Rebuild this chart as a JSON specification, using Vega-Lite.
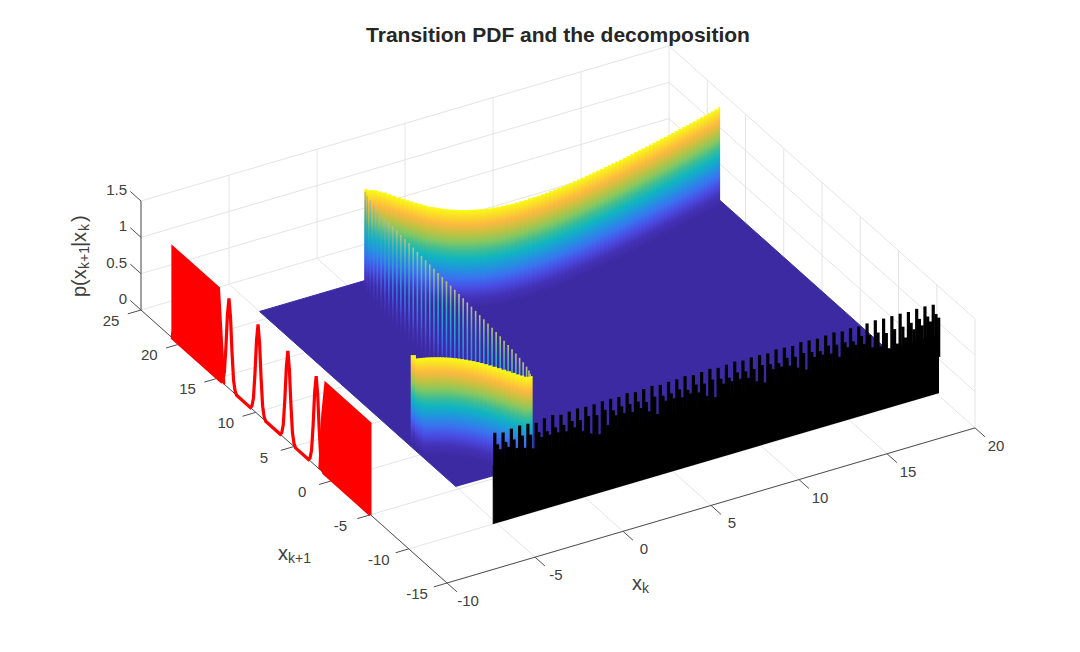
{
  "$schema": "https://vega.github.io/schema/vega-lite/v6.json",
  "width": 1080,
  "height": 652,
  "autosize": "none",
  "padding": 0,
  "background": "white",
  "title": {"text": "Transition PDF and the decomposition", "font": "Liberation Sans", "fontSize": 21, "fontWeight": "bold", "color": "#262626", "anchor": "middle", "dx": 18, "offset": -46},
  "config": {"view": {"stroke": null}, "font": "Liberation Sans"},
  "datasets": {
    "lines": [
      {"x0":-10,"y0":-15,"z0":0,"x1":-10,"y1":25,"z1":0},{"x0":-5,"y0":-15,"z0":0,"x1":-5,"y1":25,"z1":0},{"x0":0,"y0":-15,"z0":0,"x1":0,"y1":25,"z1":0},{"x0":5,"y0":-15,"z0":0,"x1":5,"y1":25,"z1":0},{"x0":10,"y0":-15,"z0":0,"x1":10,"y1":25,"z1":0},{"x0":15,"y0":-15,"z0":0,"x1":15,"y1":25,"z1":0},{"x0":20,"y0":-15,"z0":0,"x1":20,"y1":25,"z1":0},
      {"x0":-10,"y0":-15,"z0":0,"x1":20,"y1":-15,"z1":0},{"x0":-10,"y0":-10,"z0":0,"x1":20,"y1":-10,"z1":0},{"x0":-10,"y0":-5,"z0":0,"x1":20,"y1":-5,"z1":0},{"x0":-10,"y0":0,"z0":0,"x1":20,"y1":0,"z1":0},{"x0":-10,"y0":5,"z0":0,"x1":20,"y1":5,"z1":0},{"x0":-10,"y0":10,"z0":0,"x1":20,"y1":10,"z1":0},{"x0":-10,"y0":15,"z0":0,"x1":20,"y1":15,"z1":0},{"x0":-10,"y0":20,"z0":0,"x1":20,"y1":20,"z1":0},{"x0":-10,"y0":25,"z0":0,"x1":20,"y1":25,"z1":0},
      {"x0":20,"y0":-15,"z0":0,"x1":20,"y1":-15,"z1":1.5},{"x0":20,"y0":-10,"z0":0,"x1":20,"y1":-10,"z1":1.5},{"x0":20,"y0":-5,"z0":0,"x1":20,"y1":-5,"z1":1.5},{"x0":20,"y0":0,"z0":0,"x1":20,"y1":0,"z1":1.5},{"x0":20,"y0":5,"z0":0,"x1":20,"y1":5,"z1":1.5},{"x0":20,"y0":10,"z0":0,"x1":20,"y1":10,"z1":1.5},{"x0":20,"y0":15,"z0":0,"x1":20,"y1":15,"z1":1.5},{"x0":20,"y0":20,"z0":0,"x1":20,"y1":20,"z1":1.5},{"x0":20,"y0":25,"z0":0,"x1":20,"y1":25,"z1":1.5},
      {"x0":20,"y0":-15,"z0":0.5,"x1":20,"y1":25,"z1":0.5},{"x0":20,"y0":-15,"z0":1,"x1":20,"y1":25,"z1":1},{"x0":20,"y0":-15,"z0":1.5,"x1":20,"y1":25,"z1":1.5},
      {"x0":-10,"y0":25,"z0":0,"x1":-10,"y1":25,"z1":1.5},{"x0":-5,"y0":25,"z0":0,"x1":-5,"y1":25,"z1":1.5},{"x0":0,"y0":25,"z0":0,"x1":0,"y1":25,"z1":1.5},{"x0":5,"y0":25,"z0":0,"x1":5,"y1":25,"z1":1.5},{"x0":10,"y0":25,"z0":0,"x1":10,"y1":25,"z1":1.5},{"x0":15,"y0":25,"z0":0,"x1":15,"y1":25,"z1":1.5},
      {"x0":-10,"y0":25,"z0":0.5,"x1":20,"y1":25,"z1":0.5},{"x0":-10,"y0":25,"z0":1,"x1":20,"y1":25,"z1":1},{"x0":-10,"y0":25,"z0":1.5,"x1":20,"y1":25,"z1":1.5}
    ],
    "axes": [
      {"x0":-10,"y0":-15,"z0":0,"x1":20,"y1":-15,"z1":0},{"x0":-10,"y0":-15,"z0":0,"x1":-10,"y1":25,"z1":0},{"x0":-10,"y0":25,"z0":0,"x1":-10,"y1":25,"z1":1.5},
      {"x0":-10,"y0":-15,"z0":0,"x1":-10,"y1":-16.3,"z1":0},{"x0":-5,"y0":-15,"z0":0,"x1":-5,"y1":-16.3,"z1":0},{"x0":0,"y0":-15,"z0":0,"x1":0,"y1":-16.3,"z1":0},{"x0":5,"y0":-15,"z0":0,"x1":5,"y1":-16.3,"z1":0},{"x0":10,"y0":-15,"z0":0,"x1":10,"y1":-16.3,"z1":0},{"x0":15,"y0":-15,"z0":0,"x1":15,"y1":-16.3,"z1":0},{"x0":20,"y0":-15,"z0":0,"x1":20,"y1":-16.3,"z1":0},
      {"x0":-10,"y0":-15,"z0":0,"x1":-10.75,"y1":-15,"z1":0},{"x0":-10,"y0":-10,"z0":0,"x1":-10.75,"y1":-10,"z1":0},{"x0":-10,"y0":-5,"z0":0,"x1":-10.75,"y1":-5,"z1":0},{"x0":-10,"y0":0,"z0":0,"x1":-10.75,"y1":0,"z1":0},{"x0":-10,"y0":5,"z0":0,"x1":-10.75,"y1":5,"z1":0},{"x0":-10,"y0":10,"z0":0,"x1":-10.75,"y1":10,"z1":0},{"x0":-10,"y0":15,"z0":0,"x1":-10.75,"y1":15,"z1":0},{"x0":-10,"y0":20,"z0":0,"x1":-10.75,"y1":20,"z1":0},{"x0":-10,"y0":25,"z0":0,"x1":-10.75,"y1":25,"z1":0},
      {"x0":-10,"y0":25,"z0":0,"x1":-10,"y1":26.4,"z1":0},{"x0":-10,"y0":25,"z0":0.5,"x1":-10,"y1":26.4,"z1":0.5},{"x0":-10,"y0":25,"z0":1,"x1":-10,"y1":26.4,"z1":1},{"x0":-10,"y0":25,"z0":1.5,"x1":-10,"y1":26.4,"z1":1.5}
    ],
    "plane": [{"xk":-5,"xk1":-4.7,"p":0},{"xk":-5,"xk1":21,"p":0},{"xk":20,"xk1":21,"p":0},{"xk":20,"xk1":-5,"p":0}],
    "wall": [{"xk":-5.2,"xk1":-10,"p":0},{"xk":-5.2,"xk1":-10,"p":0.8},{"xk":20.1,"xk1":-10,"p":0.8},{"xk":20.1,"xk1":-10,"p":0}],
    "ridge": [
      {"xk":0.95,"xk1":21},{"xk":1,"xk1":20.8},{"xk":1.125,"xk1":20.75},{"xk":1.25,"xk1":20.6},{"xk":1.375,"xk1":20.35},{"xk":1.5,"xk1":20.08},{"xk":1.625,"xk1":19.75},{"xk":1.75,"xk1":19.42},{"xk":1.875,"xk1":19.1},{"xk":2,"xk1":18.78},{"xk":2.125,"xk1":18.48},{"xk":2.25,"xk1":18.2},{"xk":2.375,"xk1":17.91},{"xk":2.5,"xk1":17.63},{"xk":2.625,"xk1":17.36},{"xk":2.75,"xk1":17.1},{"xk":2.875,"xk1":16.92},{"xk":3,"xk1":16.75},{"xk":3.125,"xk1":16.57},{"xk":3.25,"xk1":16.4},{"xk":3.375,"xk1":16.24},{"xk":3.5,"xk1":16.09},{"xk":3.625,"xk1":15.97},{"xk":3.75,"xk1":15.85},{"xk":3.875,"xk1":15.73},{"xk":4,"xk1":15.62},{"xk":4.125,"xk1":15.53},{"xk":4.25,"xk1":15.44},{"xk":4.375,"xk1":15.36},{"xk":4.5,"xk1":15.28},{"xk":4.625,"xk1":15.21},{"xk":4.75,"xk1":15.14},{"xk":4.875,"xk1":15.07},
      {"xk":5,"xk1":15.01},{"xk":5.25,"xk1":14.92},{"xk":5.5,"xk1":14.84},{"xk":5.75,"xk1":14.78},{"xk":6,"xk1":14.72},{"xk":6.25,"xk1":14.7},{"xk":6.5,"xk1":14.67},{"xk":6.75,"xk1":14.66},{"xk":7,"xk1":14.65},{"xk":7.25,"xk1":14.65},{"xk":7.5,"xk1":14.67},{"xk":7.75,"xk1":14.68},{"xk":8,"xk1":14.7},{"xk":8.25,"xk1":14.73},{"xk":8.5,"xk1":14.77},{"xk":8.75,"xk1":14.81},{"xk":9,"xk1":14.85},{"xk":9.25,"xk1":14.9},{"xk":9.5,"xk1":14.95},{"xk":9.75,"xk1":15},
      {"xk":10,"xk1":15.05},{"xk":10.25,"xk1":15.12},{"xk":10.5,"xk1":15.18},{"xk":10.75,"xk1":15.25},{"xk":11,"xk1":15.32},{"xk":11.25,"xk1":15.39},{"xk":11.5,"xk1":15.46},{"xk":11.75,"xk1":15.53},{"xk":12,"xk1":15.6},{"xk":12.25,"xk1":15.68},{"xk":12.5,"xk1":15.76},{"xk":12.75,"xk1":15.84},{"xk":13,"xk1":15.92},{"xk":13.25,"xk1":16},{"xk":13.5,"xk1":16.08},{"xk":13.75,"xk1":16.17},{"xk":14,"xk1":16.25},{"xk":14.25,"xk1":16.34},{"xk":14.5,"xk1":16.43},{"xk":14.75,"xk1":16.52},
      {"xk":15,"xk1":16.61},{"xk":15.25,"xk1":16.7},{"xk":15.5,"xk1":16.79},{"xk":15.75,"xk1":16.88},{"xk":16,"xk1":16.98},{"xk":16.25,"xk1":17.07},{"xk":16.5,"xk1":17.17},{"xk":16.75,"xk1":17.26},{"xk":17,"xk1":17.36},{"xk":17.25,"xk1":17.46},{"xk":17.5,"xk1":17.56},{"xk":17.75,"xk1":17.65},{"xk":18,"xk1":17.75},{"xk":18.25,"xk1":17.85},{"xk":18.5,"xk1":17.95},{"xk":18.75,"xk1":18.05},{"xk":19,"xk1":18.15},{"xk":19.25,"xk1":18.26},{"xk":19.5,"xk1":18.36},{"xk":19.75,"xk1":18.47},{"xk":20,"xk1":18.58}
    ],
    "stripes": [
      {"xk":0.83,"xk1":20.7},{"xk":0.72,"xk1":20.2},{"xk":0.63,"xk1":19.6},{"xk":0.57,"xk1":19},{"xk":0.51,"xk1":18.4},{"xk":0.465,"xk1":17.8},{"xk":0.425,"xk1":17.2},{"xk":0.385,"xk1":16.6},{"xk":0.35,"xk1":16},{"xk":0.32,"xk1":15.4},{"xk":0.285,"xk1":14.8},{"xk":0.26,"xk1":14.2},{"xk":0.23,"xk1":13.6},{"xk":0.205,"xk1":13},{"xk":0.18,"xk1":12.4},{"xk":0.153,"xk1":11.8},{"xk":0.128,"xk1":11.2},{"xk":0.103,"xk1":10.6},{"xk":0.08,"xk1":10},{"xk":0.055,"xk1":9.4},{"xk":0.032,"xk1":8.8},{"xk":0.008,"xk1":8.2},{"xk":-0.016,"xk1":7.6},{"xk":-0.04,"xk1":7},{"xk":-0.063,"xk1":6.4},{"xk":-0.087,"xk1":5.8},{"xk":-0.11,"xk1":5.2},{"xk":-0.136,"xk1":4.6},{"xk":-0.16,"xk1":4},{"xk":-0.187,"xk1":3.4},{"xk":-0.214,"xk1":2.8},{"xk":-0.24,"xk1":2.2},{"xk":-0.27,"xk1":1.6},{"xk":-0.298,"xk1":1},{"xk":-0.33,"xk1":0.4},{"xk":-0.37,"xk1":-0.2},{"xk":-0.4,"xk1":-0.8},{"xk":-0.44,"xk1":-1.4},{"xk":-0.48,"xk1":-2},{"xk":-0.53,"xk1":-2.6},{"xk":-0.59,"xk1":-3.2},{"xk":-0.655,"xk1":-3.8},{"xk":-0.74,"xk1":-4.3},{"xk":-0.84,"xk1":-4.7},{"xk":-0.95,"xk1":-4.95}
    ],
    "lobe": [
      {"xk":-5.02,"xk1":1.2},{"xk":-5,"xk1":0.69},{"xk":-4.875,"xk1":0.64},{"xk":-4.75,"xk1":0.58},{"xk":-4.625,"xk1":0.52},{"xk":-4.5,"xk1":0.46},{"xk":-4.375,"xk1":0.38},{"xk":-4.25,"xk1":0.3},{"xk":-4.125,"xk1":0.21},{"xk":-4,"xk1":0.12},{"xk":-3.875,"xk1":0.01},{"xk":-3.75,"xk1":-0.1},{"xk":-3.625,"xk1":-0.22},{"xk":-3.5,"xk1":-0.35},{"xk":-3.375,"xk1":-0.5},{"xk":-3.25,"xk1":-0.65},{"xk":-3.125,"xk1":-0.82},{"xk":-3,"xk1":-1},{"xk":-2.875,"xk1":-1.2},{"xk":-2.75,"xk1":-1.4},{"xk":-2.625,"xk1":-1.63},{"xk":-2.5,"xk1":-1.87},{"xk":-2.375,"xk1":-2.13},{"xk":-2.25,"xk1":-2.4},{"xk":-2.125,"xk1":-2.7},{"xk":-2,"xk1":-3},{"xk":-1.875,"xk1":-3.32},{"xk":-1.75,"xk1":-3.64},{"xk":-1.625,"xk1":-3.97},{"xk":-1.5,"xk1":-4.29},{"xk":-1.375,"xk1":-4.55},{"xk":-1.25,"xk1":-4.82},{"xk":-1.125,"xk1":-4.93},{"xk":-1,"xk1":-5},{"xk":-0.9,"xk1":-5}
    ],
    "redBlocks": [
      {"block":"a","xk1":-5,"p":0},{"block":"a","xk1":-5,"p":1.26},{"block":"a","xk1":0.9,"p":1.26},{"block":"a","xk1":1.3,"p":0.8},{"block":"a","xk1":1.7,"p":0},
      {"block":"b","xk1":14.1,"p":0},{"block":"b","xk1":14.8,"p":1.26},{"block":"b","xk1":20.9,"p":1.26},{"block":"b","xk1":20.9,"p":0.1},{"block":"b","xk1":21,"p":0}
    ],
    "redLine": [
      {"xk1":-5,"p":0},{"xk1":1.1,"p":0},{"xk1":1.3,"p":0.04},{"xk1":1.5,"p":0.17},{"xk1":1.7,"p":0.53},{"xk1":1.9,"p":1},{"xk1":2.1,"p":1.24},{"xk1":2.3,"p":1},{"xk1":2.5,"p":0.53},{"xk1":2.7,"p":0.17},{"xk1":2.9,"p":0.04},{"xk1":3.1,"p":0},
      {"xk1":4.8,"p":0},{"xk1":5,"p":0.04},{"xk1":5.2,"p":0.17},{"xk1":5.4,"p":0.53},{"xk1":5.6,"p":1},{"xk1":5.8,"p":1.24},{"xk1":6,"p":1},{"xk1":6.2,"p":0.53},{"xk1":6.4,"p":0.17},{"xk1":6.6,"p":0.04},{"xk1":6.8,"p":0},
      {"xk1":8.7,"p":0},{"xk1":8.9,"p":0.04},{"xk1":9.1,"p":0.17},{"xk1":9.3,"p":0.53},{"xk1":9.5,"p":1},{"xk1":9.7,"p":1.24},{"xk1":9.9,"p":1},{"xk1":10.1,"p":0.53},{"xk1":10.3,"p":0.17},{"xk1":10.5,"p":0.04},{"xk1":10.7,"p":0},
      {"xk1":12.5,"p":0},{"xk1":12.7,"p":0.04},{"xk1":12.9,"p":0.17},{"xk1":13.1,"p":0.53},{"xk1":13.3,"p":1},{"xk1":13.5,"p":1.24},{"xk1":13.7,"p":1},{"xk1":13.9,"p":0.53},{"xk1":14.1,"p":0.17},{"xk1":14.3,"p":0.04},{"xk1":14.5,"p":0},{"xk1":21,"p":0}
    ],
    "teeth": [
      {"xk":-5.2,"s":1.25,"h":1.08,"g":1},{"xk":-4.73,"s":1.22,"h":1.08,"g":1},{"xk":-4.26,"s":1.24,"h":1.08,"g":0.95},{"xk":-3.79,"s":1.25,"h":1.1,"g":0.92},{"xk":-3.32,"s":1.24,"h":1.08,"g":0.88},{"xk":-2.85,"s":1.22,"h":1.08,"g":1},{"xk":-2.38,"s":1.25,"h":1.06,"g":1},{"xk":-1.91,"s":1.26,"h":1.08,"g":1},{"xk":-1.44,"s":1.23,"h":1.08,"g":0.98},{"xk":-0.97,"s":1.24,"h":1.1,"g":1},
      {"xk":-0.5,"s":1.25,"h":1.08,"g":0.92},{"xk":-0.03,"s":1.24,"h":1.1,"g":0.85},{"xk":0.44,"s":1.24,"h":1.08,"g":0.78},{"xk":0.91,"s":1.25,"h":1.12,"g":0.9},{"xk":1.38,"s":1.25,"h":1.08,"g":1},{"xk":1.85,"s":1.24,"h":1.1,"g":1},{"xk":2.32,"s":1.26,"h":1.1,"g":0.98},{"xk":2.79,"s":1.24,"h":1.1,"g":1},{"xk":3.26,"s":1.25,"h":1.06,"g":0.92},{"xk":3.73,"s":1.26,"h":1.1,"g":0.85},
      {"xk":4.2,"s":1.24,"h":1.08,"g":1},{"xk":4.67,"s":1.25,"h":1.08,"g":1},{"xk":5.14,"s":1.25,"h":1.1,"g":0.98},{"xk":5.61,"s":1.26,"h":1.06,"g":1},{"xk":6.08,"s":1.24,"h":1.1,"g":0.98},{"xk":6.55,"s":1.25,"h":1.08,"g":0.9},{"xk":7.02,"s":1.26,"h":1.1,"g":0.85},{"xk":7.49,"s":1.24,"h":1.08,"g":1},{"xk":7.96,"s":1.25,"h":1.06,"g":1},{"xk":8.43,"s":1.26,"h":1.1,"g":1},
      {"xk":8.9,"s":1.24,"h":1.08,"g":0.98},{"xk":9.37,"s":1.25,"h":1.08,"g":0.9},{"xk":9.84,"s":1.25,"h":1.1,"g":0.85},{"xk":10.31,"s":1.24,"h":1.08,"g":1},{"xk":10.78,"s":1.26,"h":1.06,"g":1},{"xk":11.25,"s":1.25,"h":1.1,"g":0.98},{"xk":11.72,"s":1.24,"h":1.08,"g":0.92},{"xk":12.19,"s":1.26,"h":1.1,"g":0.86},{"xk":12.66,"s":1.25,"h":1.08,"g":1},{"xk":13.13,"s":1.24,"h":1.06,"g":1},
      {"xk":13.6,"s":1.25,"h":1.1,"g":0.98},{"xk":14.07,"s":1.26,"h":1.08,"g":0.9},{"xk":14.54,"s":1.24,"h":1.08,"g":1},{"xk":15.01,"s":1.25,"h":1.06,"g":1},{"xk":15.48,"s":1.24,"h":1.1,"g":0.98},{"xk":15.95,"s":1.25,"h":1.08,"g":0.9},{"xk":16.42,"s":1.26,"h":1.08,"g":0.88},{"xk":16.89,"s":1.25,"h":1.04,"g":0.82},{"xk":17.36,"s":1.25,"h":1.06,"g":0.85},{"xk":17.83,"s":1.25,"h":1.06,"g":0.9},
      {"xk":18.3,"s":1.24,"h":1.08,"g":0.98},{"xk":18.77,"s":1.25,"h":1.1,"g":1},{"xk":19.24,"s":1.25,"h":1.1,"g":1.02},{"xk":19.71,"s":1.24,"h":1.1,"g":1.04}
    ],
    "xkLabels": [{"xk":-10,"label":"-10"},{"xk":-5,"label":"-5"},{"xk":0,"label":"0"},{"xk":5,"label":"5"},{"xk":10,"label":"10"},{"xk":15,"label":"15"},{"xk":20,"label":"20"}],
    "xk1Labels": [{"xk1":-15,"label":"-15"},{"xk1":-10,"label":"-10"},{"xk1":-5,"label":"-5"},{"xk1":0,"label":"0"},{"xk1":5,"label":"5"},{"xk1":10,"label":"10"},{"xk1":15,"label":"15"},{"xk1":20,"label":"20"},{"xk1":25,"label":"25"}],
    "pLabels": [{"p":0,"label":"0"},{"p":0.5,"label":"0.5"},{"p":1,"label":"1"},{"p":1.5,"label":"1.5"}],
    "titleMain": [{"xk":-16.12,"xk1":-6.99,"label":"x"},{"xk":-2.43,"xk1":-21.76,"label":"x"}],
    "titleSub": [{"xk":-15.86,"xk1":-7.7,"label":"k+1"},{"xk":-2.14,"xk1":-22.42,"label":"k"}],
    "zMain": [{"xk":-11.73,"xk1":28.2,"label":"p(x"},{"xk":-9.33,"xk1":33.71,"label":"|x"},{"xk":-8.14,"xk1":36.48,"label":")"}],
    "zSub": [{"xk":-10.26,"xk1":31.2,"label":"k+1"},{"xk":-8.43,"xk1":35.39,"label":"k"}]
  },
  "encoding": {
    "x": {"field": "sx", "type": "quantitative", "scale": {"domain": [0, 1080], "range": [0, 1080], "nice": false, "zero": false}, "axis": null},
    "y": {"field": "sy", "type": "quantitative", "scale": {"domain": [0, 652], "range": [0, 652], "nice": false, "zero": false}, "axis": null}
  },
  "layer": [
    {
      "data": {"name": "lines"},
      "transform": [
        {"calculate": "447+17.6*(datum.x0+10)-7.65*(datum.y0+15)", "as": "sx"},
        {"calculate": "583-5.17*(datum.x0+10)-6.825*(datum.y0+15)-72.67*datum.z0", "as": "sy"},
        {"calculate": "447+17.6*(datum.x1+10)-7.65*(datum.y1+15)", "as": "sx2"},
        {"calculate": "583-5.17*(datum.x1+10)-6.825*(datum.y1+15)-72.67*datum.z1", "as": "sy2"}
      ],
      "mark": {"type": "rule", "color": "#e4e4e4", "strokeWidth": 1},
      "encoding": {"x2": {"field": "sx2"}, "y2": {"field": "sy2"}}
    },
    {
      "data": {"name": "axes"},
      "transform": [
        {"calculate": "447+17.6*(datum.x0+10)-7.65*(datum.y0+15)", "as": "sx"},
        {"calculate": "583-5.17*(datum.x0+10)-6.825*(datum.y0+15)-72.67*datum.z0", "as": "sy"},
        {"calculate": "447+17.6*(datum.x1+10)-7.65*(datum.y1+15)", "as": "sx2"},
        {"calculate": "583-5.17*(datum.x1+10)-6.825*(datum.y1+15)-72.67*datum.z1", "as": "sy2"}
      ],
      "mark": {"type": "rule", "color": "#505050", "strokeWidth": 1},
      "encoding": {"x2": {"field": "sx2"}, "y2": {"field": "sy2"}}
    },
    {
      "data": {"name": "plane"},
      "transform": [
        {"calculate": "447+17.6*(datum.xk+10)-7.65*(datum.xk1+15)", "as": "sx"},
        {"calculate": "583-5.17*(datum.xk+10)-6.825*(datum.xk1+15)-72.67*datum.p", "as": "sy"},
        {"window": [{"op": "row_number", "as": "i"}]}
      ],
      "mark": {"type": "line", "fill": "#3c2aa3", "stroke": "#3c2aa3", "strokeWidth": 1},
      "encoding": {"order": {"field": "i", "type": "quantitative"}}
    },
    {
      "data": {"name": "ridge"},
      "transform": [
        {"calculate": "447+17.6*(datum.xk+10)-7.65*(datum.xk1+15)", "as": "sx"},
        {"calculate": "583-5.17*(datum.xk+10)-6.825*(datum.xk1+15)-72.67*1.26", "as": "sy"},
        {"calculate": "583-5.17*(datum.xk+10)-6.825*(datum.xk1+14.1)", "as": "sy2"},
        {"window": [{"op": "lead", "field": "sx", "as": "nx"}], "sort": [{"field": "xk"}]},
        {"calculate": "datum.nx ? datum.nx+1 : datum.sx+2", "as": "sx2"}
      ],
      "mark": {"type": "rect", "fill": {"gradient": "linear", "x1": 0, "y1": 0, "x2": 0, "y2": 1, "stops": [{"offset": 0, "color": "#f9fb15"}, {"offset": 0.07, "color": "#fbdc28"}, {"offset": 0.15, "color": "#fcb93f"}, {"offset": 0.24, "color": "#c6c140"}, {"offset": 0.33, "color": "#86c860"}, {"offset": 0.42, "color": "#3cbd95"}, {"offset": 0.5, "color": "#10b5c0"}, {"offset": 0.6, "color": "#2096dd"}, {"offset": 0.7, "color": "#3a72f0"}, {"offset": 0.8, "color": "#4a4be2"}, {"offset": 0.9, "color": "#4432b8"}, {"offset": 1, "color": "#3c2aa3"}]}},
      "encoding": {"x2": {"field": "sx2"}, "y2": {"field": "sy2"}}
    },
    {
      "data": {"name": "stripes"},
      "transform": [
        {"calculate": "447+17.6*(datum.xk+10)-7.65*(datum.xk1+15)", "as": "sx"},
        {"calculate": "583-5.17*(datum.xk+10)-6.825*(datum.xk1+15)-72.67*1.26", "as": "sy"},
        {"calculate": "583-5.17*(datum.xk+10)-6.825*(datum.xk1+14.1)", "as": "sy2"},
        {"calculate": "datum.sx+1.6", "as": "sx2"}
      ],
      "mark": {"type": "rect", "fill": {"gradient": "linear", "x1": 0, "y1": 0, "x2": 0, "y2": 1, "stops": [{"offset": 0, "color": "#c0c080"}, {"offset": 0.1, "color": "#80b8a0"}, {"offset": 0.3, "color": "#30a8c8"}, {"offset": 0.5, "color": "#2a90e0"}, {"offset": 0.7, "color": "#4060e8"}, {"offset": 0.85, "color": "#4438c0"}, {"offset": 1, "color": "#3c2aa3"}]}},
      "encoding": {"x2": {"field": "sx2"}, "y2": {"field": "sy2"}}
    },
    {
      "data": {"name": "lobe"},
      "transform": [
        {"calculate": "447+17.6*(datum.xk+10)-7.65*(datum.xk1+15)", "as": "sx"},
        {"calculate": "583-5.17*(datum.xk+10)-6.825*(datum.xk1+15)-72.67*1.26", "as": "sy"},
        {"calculate": "min(583-5.17*(datum.xk+10)-6.825*(datum.xk1+14.1), 310.9+0.892*(datum.sx-261.4))", "as": "sy2"},
        {"window": [{"op": "lead", "field": "sx", "as": "nx"}], "sort": [{"field": "xk"}]},
        {"calculate": "datum.nx ? datum.nx+1 : datum.sx+2", "as": "sx2"}
      ],
      "mark": {"type": "rect", "fill": {"gradient": "linear", "x1": 0, "y1": 0, "x2": 0, "y2": 1, "stops": [{"offset": 0, "color": "#f9fb15"}, {"offset": 0.07, "color": "#fbdc28"}, {"offset": 0.15, "color": "#fcb93f"}, {"offset": 0.24, "color": "#c6c140"}, {"offset": 0.33, "color": "#86c860"}, {"offset": 0.42, "color": "#3cbd95"}, {"offset": 0.5, "color": "#10b5c0"}, {"offset": 0.6, "color": "#2096dd"}, {"offset": 0.7, "color": "#3a72f0"}, {"offset": 0.8, "color": "#4a4be2"}, {"offset": 0.9, "color": "#4432b8"}, {"offset": 1, "color": "#3c2aa3"}]}},
      "encoding": {"x2": {"field": "sx2"}, "y2": {"field": "sy2"}}
    },
    {
      "data": {"name": "redBlocks"},
      "transform": [
        {"calculate": "447-7.65*(datum.xk1+15)", "as": "sx"},
        {"calculate": "583-6.825*(datum.xk1+15)-72.67*datum.p", "as": "sy"},
        {"window": [{"op": "row_number", "as": "i"}]}
      ],
      "mark": {"type": "line", "fill": "#ff0000", "stroke": "#ff0000", "strokeWidth": 2},
      "encoding": {"detail": {"field": "block"}, "order": {"field": "i", "type": "quantitative"}}
    },
    {
      "data": {"name": "redLine"},
      "transform": [
        {"calculate": "447-7.65*(datum.xk1+15)", "as": "sx"},
        {"calculate": "583-6.825*(datum.xk1+15)-72.67*datum.p", "as": "sy"},
        {"window": [{"op": "row_number", "as": "i"}]}
      ],
      "mark": {"type": "line", "stroke": "#ff0000", "strokeWidth": 3.2},
      "encoding": {"order": {"field": "i", "type": "quantitative"}}
    },
    {
      "data": {"name": "wall"},
      "transform": [
        {"calculate": "447+17.6*(datum.xk+10)-7.65*(datum.xk1+15)", "as": "sx"},
        {"calculate": "583-5.17*(datum.xk+10)-6.825*(datum.xk1+15)-72.67*datum.p", "as": "sy"},
        {"window": [{"op": "row_number", "as": "i"}]}
      ],
      "mark": {"type": "line", "fill": "#000000", "stroke": "#000000", "strokeWidth": 1},
      "encoding": {"order": {"field": "i", "type": "quantitative"}}
    },
    {
      "data": {"name": "teeth"},
      "transform": [
        {"fold": ["s", "h", "g"], "as": ["part", "p"]},
        {"calculate": "0.09+(datum.part=='s' ? datum.xk : datum.part=='h' ? datum.xk+0.155 : datum.xk+0.31)", "as": "at"},
        {"calculate": "447+17.6*(datum.at+10)-38.25", "as": "sx"},
        {"calculate": "583-5.17*(datum.at+10)-34.125-72.67*datum.p", "as": "sy"},
        {"calculate": "583-5.17*(datum.at+10)-34.125-72.67*0.5", "as": "sy2"}
      ],
      "mark": {"type": "rule", "color": "#000000", "strokeWidth": 3.2},
      "encoding": {"y2": {"field": "sy2"}}
    },
    {
      "data": {"name": "xkLabels"},
      "transform": [
        {"calculate": "447+17.6*(datum.xk+10)", "as": "sx"},
        {"calculate": "583-5.17*(datum.xk+10)", "as": "sy"}
      ],
      "mark": {"type": "text", "fontSize": 15, "color": "#404040", "align": "center", "baseline": "middle", "dx": 21, "dy": 18},
      "encoding": {"text": {"field": "label"}}
    },
    {
      "data": {"name": "xk1Labels"},
      "transform": [
        {"calculate": "447-7.65*(datum.xk1+15)", "as": "sx"},
        {"calculate": "583-6.825*(datum.xk1+15)", "as": "sy"}
      ],
      "mark": {"type": "text", "fontSize": 15, "color": "#404040", "align": "center", "baseline": "middle", "dx": -30, "dy": 11},
      "encoding": {"text": {"field": "label"}}
    },
    {
      "data": {"name": "pLabels"},
      "transform": [
        {"calculate": "141", "as": "sx"},
        {"calculate": "310-72.67*datum.p", "as": "sy"}
      ],
      "mark": {"type": "text", "fontSize": 15, "color": "#404040", "align": "right", "baseline": "middle", "dx": -14, "dy": -11},
      "encoding": {"text": {"field": "label"}}
    },
    {
      "data": {"name": "titleMain"},
      "transform": [
        {"calculate": "447+17.6*(datum.xk+10)-7.65*(datum.xk1+15)", "as": "sx"},
        {"calculate": "583-5.17*(datum.xk+10)-6.825*(datum.xk1+15)", "as": "sy"}
      ],
      "mark": {"type": "text", "fontSize": 20, "color": "#404040", "align": "left", "baseline": "alphabetic"},
      "encoding": {"text": {"field": "label"}}
    },
    {
      "data": {"name": "titleSub"},
      "transform": [
        {"calculate": "447+17.6*(datum.xk+10)-7.65*(datum.xk1+15)", "as": "sx"},
        {"calculate": "583-5.17*(datum.xk+10)-6.825*(datum.xk1+15)", "as": "sy"}
      ],
      "mark": {"type": "text", "fontSize": 14, "color": "#404040", "align": "left", "baseline": "alphabetic"},
      "encoding": {"text": {"field": "label"}}
    },
    {
      "data": {"name": "zMain"},
      "transform": [
        {"calculate": "447+17.6*(datum.xk+10)-7.65*(datum.xk1+15)", "as": "sx"},
        {"calculate": "583-5.17*(datum.xk+10)-6.825*(datum.xk1+15)", "as": "sy"}
      ],
      "mark": {"type": "text", "fontSize": 20, "color": "#404040", "align": "left", "baseline": "alphabetic", "angle": 270},
      "encoding": {"text": {"field": "label"}}
    },
    {
      "data": {"name": "zSub"},
      "transform": [
        {"calculate": "447+17.6*(datum.xk+10)-7.65*(datum.xk1+15)", "as": "sx"},
        {"calculate": "583-5.17*(datum.xk+10)-6.825*(datum.xk1+15)", "as": "sy"}
      ],
      "mark": {"type": "text", "fontSize": 14, "color": "#404040", "align": "left", "baseline": "alphabetic", "angle": 270},
      "encoding": {"text": {"field": "label"}}
    }
  ]
}
